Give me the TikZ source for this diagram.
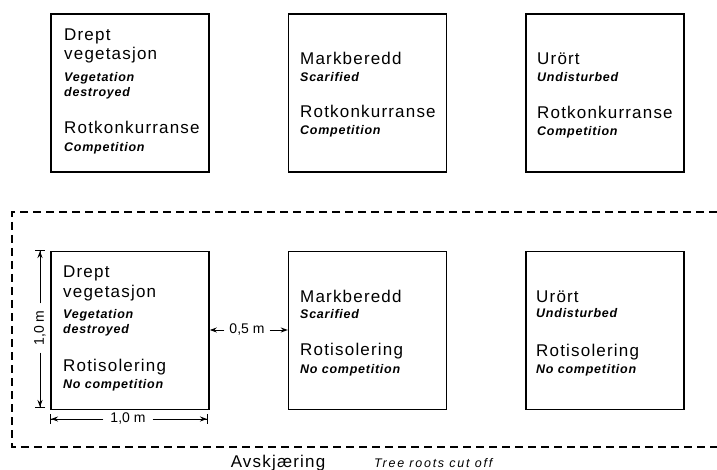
\documentclass[tikz,border=0pt]{standalone}
\usepackage{fontspec}
\setmainfont{Liberation Sans}
\newfontfamily\norfont{Liberation Sans}[LetterSpace=7]
\newfontfamily\engfont{Liberation Sans}[LetterSpace=6]
\newfontfamily\rootfont{Liberation Sans}[LetterSpace=14]
\usetikzlibrary{arrows.meta,positioning}

\begin{document}
\begin{tikzpicture}[
  x=1pt, y=-1pt,
  % Node styles
  plot/.style={
    rectangle, draw=black, line width=1.6pt,
    minimum width=158pt, minimum height=158pt, inner sep=0pt
  },
  nor/.style={anchor=base west, inner sep=0pt,
    font=\norfont\fontsize{17}{20}\selectfont},
  eng/.style={anchor=base west, inner sep=0pt,
    font=\engfont\fontsize{12.5}{14}\selectfont\bfseries\itshape},
  dimlab/.style={inner sep=7pt, font=\fontsize{14}{16}\selectfont},
  dimarr/.style={line width=1pt, -{Stealth[length=7pt,width=5pt]}},
  endarr/.style={line width=1pt, -{Stealth[length=7pt,width=5pt] Bar[width=10pt,line width=1pt]}},
  cutline/.style={line width=1.5pt, dash pattern=on 8pt off 5pt}
  ]
  \useasboundingbox (0,0) rectangle (717,470);

  %% --- TOP ROW: COMPETITION ---------------------------------------------
  \node[plot] (t1) at (130,93) {};
  \node[plot, right=78pt of t1] (t2) {};
  \node[plot, right=78pt of t2] (t3) {};

  \node[nor] (t1a) at (64,41)  {Drept};
  \node[nor] (t1b) at (64,60)  {vegetasjon};
  \node[eng] (t1c) at (64,82)  {Vegetation};
  \node[eng] (t1d) at (64,97)  {destroyed};
  \node[nor] (t1e) at (64,134) {Rotkonkurranse};
  \node[eng] (t1f) at (64,152) {Competition};

  \node[nor] (t2a) at (300,65)  {Markberedd};
  \node[eng] (t2b) at (300,82)  {Scarified};
  \node[nor] (t2c) at (300,118) {Rotkonkurranse};
  \node[eng] (t2d) at (300,135) {Competition};

  \node[nor] (t3a) at (537,65)  {Urört};
  \node[eng] (t3b) at (537,82)  {Undisturbed};
  \node[nor] (t3c) at (537,119) {Rotkonkurranse};
  \node[eng] (t3d) at (537,136) {Competition};

  %% --- BOTTOM ROW: ROOT ISOLATION ---------------------------------------
  \node[plot, below=78pt of t1] (b1) {};
  \node[plot, right=78pt of b1] (b2) {};
  \node[plot, right=78pt of b2] (b3) {};

  \node[nor] (b1a) at (63,277) {Drept};
  \node[nor] (b1b) at (63,297) {vegetasjon};
  \node[eng] (b1c) at (63,318) {Vegetation};
  \node[eng] (b1d) at (63,333) {destroyed};
  \node[nor] (b1e) at (63,371) {Rotisolering};
  \node[eng] (b1f) at (63,388) {No competition};

  \node[nor] (b2a) at (300,302) {Markberedd};
  \node[eng] (b2b) at (300,318) {Scarified};
  \node[nor] (b2c) at (300,355) {Rotisolering};
  \node[eng] (b2d) at (300,373) {No competition};

  \node[nor] (b3a) at (536,302) {Urört};
  \node[eng] (b3b) at (536,317) {Undisturbed};
  \node[nor] (b3c) at (536,356) {Rotisolering};
  \node[eng] (b3d) at (536,373) {No competition};

  % Dimensions
  \coordinate (vtop) at (40,250);
  \coordinate (vbot) at (40,408);
  \node[dimlab, rotate=90] (vlab) at (40,328) {1,0 m};
  \draw[endarr] (vlab) -- (vtop);
  \draw[endarr] (vlab) -- (vbot);

  \coordinate (hleft) at (50,419);
  \coordinate (hright) at (208,419);
  \node[dimlab] (hlab) at (128,419) {1,0 m};
  \draw[endarr] (hlab) -- (hleft);
  \draw[endarr] (hlab) -- (hright);

  \node[dimlab, inner sep=5pt] (glab) at (247,330) {0,5 m};
  \draw[dimarr] (glab) -- (glab -| b1.east);
  \draw[dimarr] (glab) -- (glab -| b2.west);

  % Cut-off trench
  \coordinate (ctr) at (717,212);
  \coordinate (ctl) at (12,212);
  \coordinate (cbl) at (12,447);
  \coordinate (cbr) at (717,447);
  \draw[cutline] (ctr) -- (ctl) -- (cbl) -- (cbr);

  \node[anchor=base, inner sep=0pt, font=\norfont\fontsize{17}{20}\selectfont]
    (cut) at (278,467) {Avskjæring};
  \node[anchor=base west, inner sep=0pt, font=\rootfont\fontsize{12.5}{14}\selectfont\itshape]
    (cutnote) at (374,467) {Tree roots cut off};
\end{tikzpicture}
\end{document}
